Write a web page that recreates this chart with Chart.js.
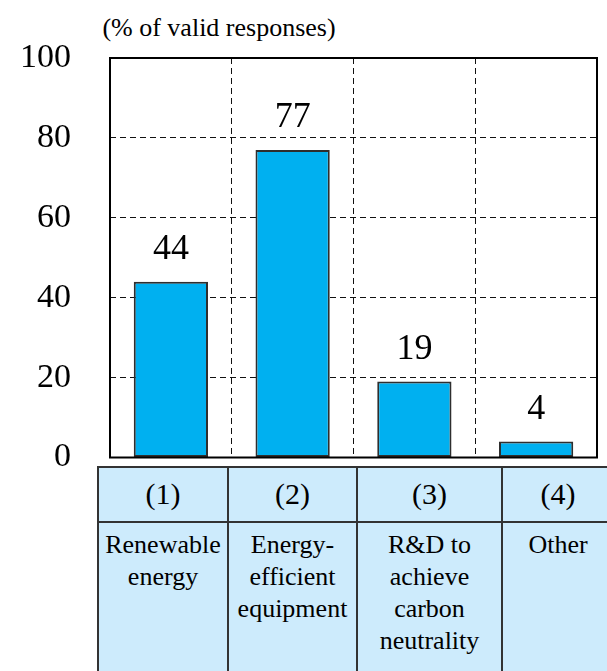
<!DOCTYPE html>
<html>
<head>
<meta charset="utf-8">
<script src="https://cdn.jsdelivr.net/npm/chart.js@4/dist/chart.umd.min.js"></script>
<style>
  html, body { margin: 0; padding: 0; background: #fff; overflow: hidden; }
  body { width: 607px; height: 671px; position: relative; color: #000; }
  #wrap { position: absolute; left: 0; top: 0; width: 607px; height: 466px; }
  #unit { position: absolute; left: 0; width: 438px; top: 14px; height: 28px; line-height: 28px; font-size: 26px; text-align: center; }
  .cell { position: absolute; box-sizing: border-box; border: 2px solid #333; background: #cdebfc; text-align: center; }
  .head { display: flex; align-items: center; justify-content: center; font-size: 30px; }
  .desc { font-size: 26px; line-height: 32px; padding-top: 6px; }
</style>
</head>
<body>
<div id="unit" style="font-family:'Liberation Serif'">(% of valid responses)</div>
<div id="wrap"><canvas id="c" width="607" height="466"></canvas></div>
<div id="table"></div>
<script>
// Survey data: share of valid responses per item
const categories = ["(1)", "(2)", "(3)", "(4)"];
const descriptions = [
  ["Renewable", "energy"],
  ["Energy-", "efficient", "equipment"],
  ["R&D to", "achieve", "carbon", "neutrality"],
  ["Other"]
];
const values = [44, 77, 19, 4];
const yTicks = [0, 20, 40, 60, 80, 100];

// Layout of the legend table under the plot
const colEdges = [98, 228, 357, 502, 614];
const rowEdges = [466.5, 521.5, 700];

const FONT = "Liberation Serif";

// Value labels above each bar
const valueLabels = {
  id: "valueLabels",
  afterDatasetsDraw(chart) {
    const ctx = chart.ctx;
    const meta = chart.getDatasetMeta(0);
    ctx.save();
    ctx.font = "36px '" + FONT + "'";
    ctx.fillStyle = "#000";
    ctx.textAlign = "center";
    ctx.textBaseline = "alphabetic";
    meta.data.forEach((bar, i) => {
      const v = chart.data.datasets[0].data[i];
      ctx.fillText(String(v), bar.x, bar.y - 23);
    });
    ctx.restore();
  }
};

// Solid frame around the plotting area
const plotFrame = {
  id: "plotFrame",
  afterDraw(chart) {
    const a = chart.chartArea;
    const ctx = chart.ctx;
    ctx.save();
    ctx.strokeStyle = "#000";
    ctx.lineWidth = 2;
    ctx.setLineDash([]);
    ctx.strokeRect(a.left, a.top, a.right - a.left, a.bottom - a.top);
    ctx.restore();
  }
};

new Chart(document.getElementById("c"), {
  type: "bar",
  data: {
    labels: categories,
    datasets: [{
      data: values,
      backgroundColor: "#00b0f0",
      borderColor: "#2e2e2e",
      borderWidth: 2,
      borderSkipped: false,
      categoryPercentage: 1.0,
      barPercentage: 0.61
    }]
  },
  options: {
    responsive: false,
    animation: false,
    devicePixelRatio: 1,
    layout: { padding: { top: 58, right: 10, bottom: 8.5, left: 0 } },
    plugins: { legend: { display: false }, tooltip: { enabled: false }, title: { display: false } },
    scales: {
      x: {
        display: true,
        offset: true,
        ticks: { display: false },
        grid: { display: true, offset: true, drawTicks: false, color: "#111", lineWidth: 1 },
        border: { display: false, dash: [6, 4] },
        afterFit(s) { s.height = 0; s.paddingLeft = 0; s.paddingRight = 0; }
      },
      y: {
        min: 0,
        max: 100,
        afterBuildTicks(s) { s.ticks = yTicks.map(v => ({ value: v })); },
        ticks: {
          padding: 39,
          color: "#000",
          font: { family: FONT, size: 34 }
        },
        grid: { drawTicks: false, color: "#111", lineWidth: 1 },
        border: { display: false, dash: [6, 4] },
        afterFit(s) { s.width = 110; s.paddingTop = 0; s.paddingBottom = 0; }
      }
    }
  },
  plugins: [valueLabels, plotFrame]
});

// Category table beneath the chart
const table = document.getElementById("table");
categories.forEach((cat, i) => {
  const left = colEdges[i] - 1;
  const width = colEdges[i + 1] - colEdges[i] + 2;
  const head = document.createElement("div");
  head.className = "cell head";
  head.style.fontFamily = "'" + FONT + "'";
  head.style.left = left + "px";
  head.style.width = width + "px";
  head.style.top = (rowEdges[0] - 1) + "px";
  head.style.height = (rowEdges[1] - rowEdges[0] + 2) + "px";
  head.textContent = cat;
  table.appendChild(head);

  const desc = document.createElement("div");
  desc.className = "cell desc";
  desc.style.fontFamily = "'" + FONT + "'";
  desc.style.left = left + "px";
  desc.style.width = width + "px";
  desc.style.top = (rowEdges[1] - 1) + "px";
  desc.style.height = (rowEdges[2] - rowEdges[1] + 2) + "px";
  descriptions[i].forEach((line, k) => {
    if (k) desc.appendChild(document.createElement("br"));
    desc.appendChild(document.createTextNode(line));
  });
  table.appendChild(desc);
});
</script>
</body>
</html>
